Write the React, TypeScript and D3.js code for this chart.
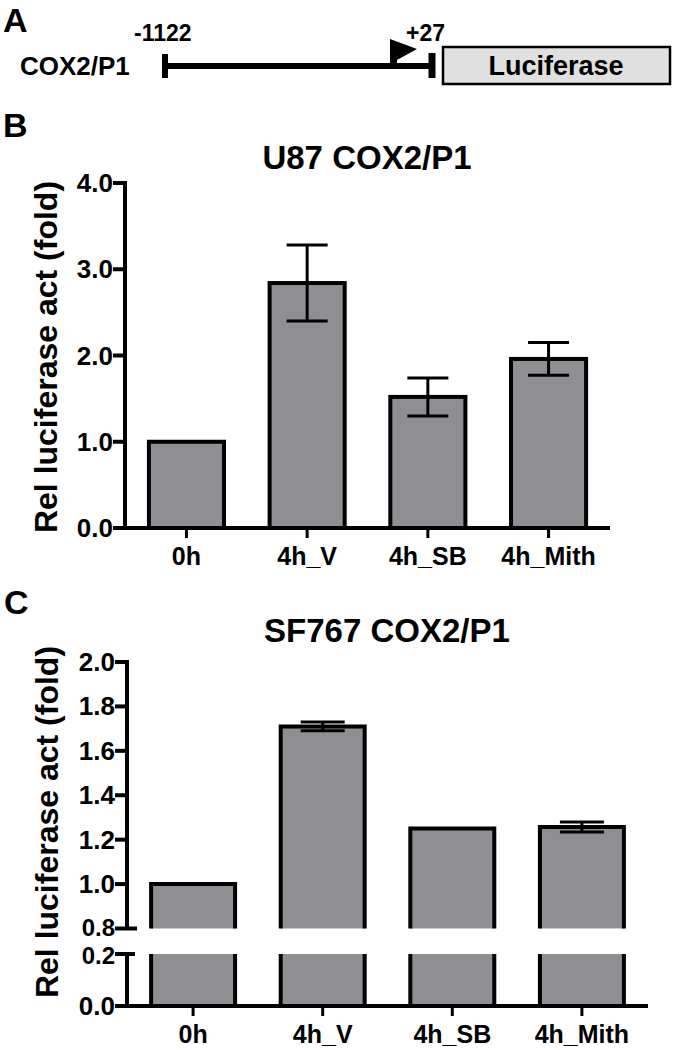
import React from "react";
import * as d3 from "d3";

// categories and values
const categories = ["0h", "4h_V", "4h_SB", "4h_Mith"];

const u87Values = [1.0, 2.84, 1.52, 1.96];
const u87Errors = [0, 0.44, 0.22, 0.19];
const u87Ticks = [0, 1, 2, 3, 4];

const sfValues = [1.0, 1.71, 1.25, 1.257];
const sfErrors = [0, 0.02, 0, 0.022];
const sfUpperTicks = [0.8, 1.0, 1.2, 1.4, 1.6, 1.8, 2.0];
const sfLowerTicks = [0, 0.2];

const FONT = "'Liberation Sans', Arial, sans-serif";
const NARROW = "'Liberation Sans Narrow', 'Arial Narrow', 'Liberation Sans', Arial, sans-serif";
const BAR_FILL = "#8f8e93";
const fmt = d3.format(".1f");

const PromoterDiagram = () => {
  const x0 = 165;
  const x1 = 432;
  const lineY = 66;
  return (
    <g>
      <text x={3} y={32} fontSize={34} fontWeight="bold" fontFamily={FONT}>A</text>
      <text x={20} y={75} fontSize={26} fontWeight="bold" fontFamily={FONT}>COX2/P1</text>
      <text x={134} y={41} fontSize={23} fontWeight="bold" fontFamily={FONT}>-1122</text>
      <text x={406} y={41} fontSize={23} fontWeight="bold" fontFamily={FONT}>+27</text>
      <line x1={x0} x2={x1} y1={lineY} y2={lineY} stroke="#000" strokeWidth={6} />
      <line x1={x0} x2={x0} y1={54} y2={78} stroke="#000" strokeWidth={6} />
      <line x1={x1} x2={x1} y1={53} y2={78} stroke="#000" strokeWidth={7} />
      <path d="M390,64 V39 L417,49 L397,60 V64 Z" fill="#000" />
      <rect x={443} y={47} width={227} height={37} fill="#e0e0e0" stroke="#000" strokeWidth={2.5} />
      <text x={556} y={75} fontSize={27} fontWeight="bold" fontFamily={FONT} textAnchor="middle">Luciferase</text>
    </g>
  );
};

const ErrorBars = ({ xs, y, values, errors, cap }) => (
  <g>
    {categories.map((c, i) => {
      if (!errors[i]) return null;
      const cx = xs(c) + xs.bandwidth() / 2;
      const hi = y(values[i] + errors[i]);
      const lo = y(values[i] - errors[i]);
      return (
        <g key={c} stroke="#000" strokeWidth={3}>
          <line x1={cx} x2={cx} y1={hi} y2={lo} />
          <line x1={cx - cap / 2} x2={cx + cap / 2} y1={hi} y2={hi} />
          <line x1={cx - cap / 2} x2={cx + cap / 2} y1={lo} y2={lo} />
        </g>
      );
    })}
  </g>
);

const PanelB = () => {
  const axisX = 125;
  const xs = d3.scaleBand().domain(categories).range([axisX, 610]).paddingInner(0.378).paddingOuter(0.198);
  const y = d3.scaleLinear().domain([0, 4]).range([528, 183]);
  const bw = xs.bandwidth();
  return (
    <g>
      <text x={3} y={137} fontSize={34} fontWeight="bold" fontFamily={FONT}>B</text>
      <text x={367} y={169} fontSize={33} fontWeight="bold" fontFamily={NARROW} textAnchor="middle">U87 COX2/P1</text>
      <text transform={`translate(57,357) rotate(-90)`} fontSize={32} fontWeight="bold" fontFamily={FONT} textAnchor="middle">
        Rel luciferase act (fold)
      </text>
      {categories.map((c, i) => (
        <rect key={c} x={xs(c)} y={y(u87Values[i])} width={bw} height={y(0) - y(u87Values[i])}
          fill={BAR_FILL} stroke="#000" strokeWidth={4} />
      ))}
      <ErrorBars xs={xs} y={y} values={u87Values} errors={u87Errors} cap={41} />
      {/* axes */}
      <line x1={axisX} x2={axisX} y1={y(4) - 2} y2={y(0)} stroke="#000" strokeWidth={4} />
      <line x1={axisX - 2} x2={610} y1={y(0)} y2={y(0)} stroke="#000" strokeWidth={4} />
      {u87Ticks.map((t) => (
        <g key={t}>
          <line x1={axisX - 12} x2={axisX} y1={y(t)} y2={y(t)} stroke="#000" strokeWidth={4} />
          <text x={axisX - 12} y={y(t) + 9} fontSize={26} fontWeight="bold" fontFamily={FONT} textAnchor="end">{fmt(t)}</text>
        </g>
      ))}
      {categories.map((c) => {
        const cx = xs(c) + bw / 2;
        return (
          <g key={c}>
            <line x1={cx} x2={cx} y1={y(0)} y2={y(0) + 10} stroke="#000" strokeWidth={3} />
            <text x={cx} y={y(0) + 37} fontSize={25} fontWeight="bold" fontFamily={FONT} textAnchor="middle">{c}</text>
          </g>
        );
      })}
    </g>
  );
};

const PanelC = () => {
  const axisX = 127;
  const xs = d3.scaleBand().domain(categories).range([axisX, 648]).paddingInner(0.352).paddingOuter(0.186);
  const yU = d3.scaleLinear().domain([0.8, 2.0]).range([928.5, 662]);
  const yL = d3.scaleLinear().domain([0, 0.2]).range([1006, 954]);
  const bw = xs.bandwidth();
  return (
    <g>
      <text x={4} y={614} fontSize={34} fontWeight="bold" fontFamily={FONT}>C</text>
      <text x={387} y={642} fontSize={33} fontWeight="bold" fontFamily={NARROW} textAnchor="middle">SF767 COX2/P1</text>
      <text transform={`translate(58,822) rotate(-90)`} fontSize={32} fontWeight="bold" fontFamily={FONT} textAnchor="middle">
        Rel luciferase act (fold)
      </text>
      {categories.map((c, i) => {
        const x = xs(c);
        const top = yU(sfValues[i]);
        return (
          <g key={c}>
            <rect x={x} y={top} width={bw} height={yU(0.8) - top} fill={BAR_FILL} />
            <path d={`M${x},${yU(0.8)} V${top} H${x + bw} V${yU(0.8)}`} fill="none" stroke="#000" strokeWidth={4} />
            <rect x={x} y={yL(0.2)} width={bw} height={yL(0) - yL(0.2)} fill={BAR_FILL} />
            <path d={`M${x},${yL(0.2)} V${yL(0)} H${x + bw} V${yL(0.2)}`} fill="none" stroke="#000" strokeWidth={4} />
          </g>
        );
      })}
      <ErrorBars xs={xs} y={yU} values={sfValues} errors={sfErrors} cap={44} />
      {/* broken y axis */}
      <line x1={axisX} x2={axisX} y1={yU(2.0) - 2} y2={yU(0.8)} stroke="#000" strokeWidth={4} />
      <line x1={axisX} x2={axisX} y1={yL(0.2)} y2={yL(0)} stroke="#000" strokeWidth={4} />
      <line x1={axisX - 2} x2={648} y1={yL(0)} y2={yL(0)} stroke="#000" strokeWidth={4} />
      {sfUpperTicks.map((t) => (
        <g key={t}>
          <line x1={axisX - 12} x2={t === 0.8 ? axisX + 10 : axisX} y1={yU(t)} y2={yU(t)} stroke="#000" strokeWidth={4} />
          <text x={axisX - 12} y={yU(t) + (t === 0.8 ? 7 : 9)} fontSize={t === 0.8 ? 24 : 26}
            fontWeight="bold" fontFamily={FONT} textAnchor="end">{fmt(t)}</text>
        </g>
      ))}
      {sfLowerTicks.map((t) => (
        <g key={t}>
          <line x1={axisX - 12} x2={t === 0.2 ? axisX + 8 : axisX} y1={yL(t)} y2={yL(t)} stroke="#000" strokeWidth={4} />
          <text x={axisX - 12} y={yL(t) + (t === 0.2 ? 10 : 9)} fontSize={t === 0.2 ? 24 : 26}
            fontWeight="bold" fontFamily={FONT} textAnchor="end">{fmt(t)}</text>
        </g>
      ))}
      {categories.map((c) => {
        const cx = xs(c) + bw / 2;
        return (
          <g key={c}>
            <line x1={cx} x2={cx} y1={yL(0)} y2={yL(0) + 10} stroke="#000" strokeWidth={3} />
            <text x={cx} y={yL(0) + 37} fontSize={25} fontWeight="bold" fontFamily={FONT} textAnchor="middle">{c}</text>
          </g>
        );
      })}
    </g>
  );
};

export default function App() {
  return (
    <svg width={675} height={1050} style={{ position: "absolute", left: 0, top: 0, background: "#fff" }}>
      <rect width={675} height={1050} fill="#fff" />
      <PromoterDiagram />
      <PanelB />
      <PanelC />
    </svg>
  );
}
